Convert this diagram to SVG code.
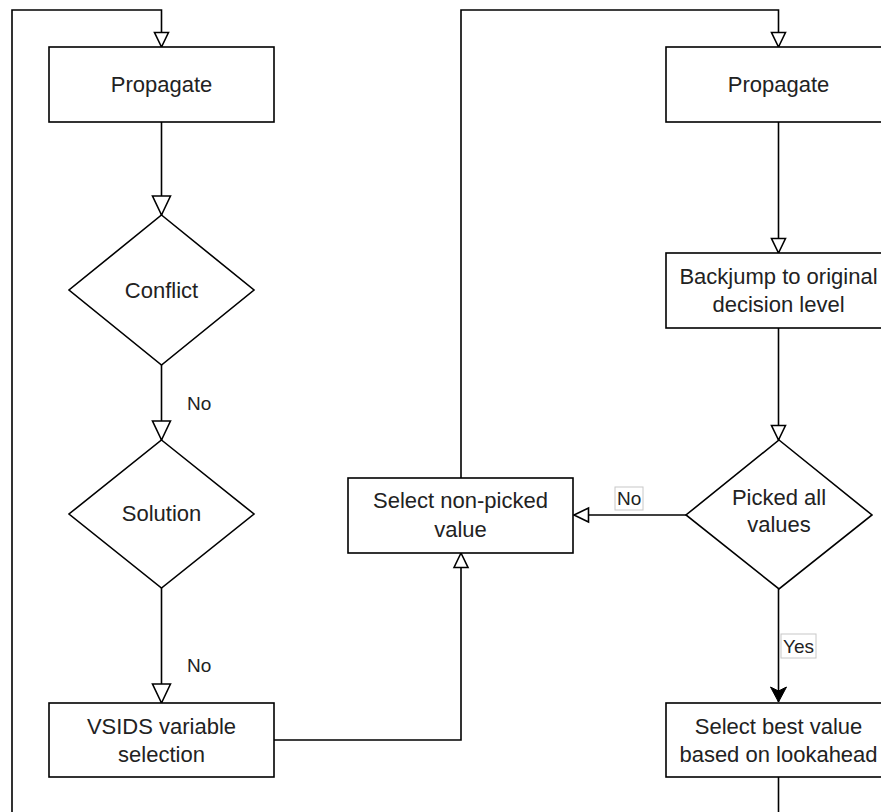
<svg xmlns="http://www.w3.org/2000/svg" width="881" height="812" viewBox="0 0 881 812">
<style>
.n{fill:#fff;stroke:#000;stroke-width:1.6}
.t{font-family:"Liberation Sans",Arial,sans-serif;font-size:22px;fill:#222;text-anchor:middle}
.l{font-family:"Liberation Sans",Arial,sans-serif;font-size:19px;fill:#222}
.c{fill:none;stroke:#000;stroke-width:1.6}
.lb{fill:#fff;stroke:#c8c8c8;stroke-width:1}
</style>
<defs>
<marker id="big" markerUnits="userSpaceOnUse" markerWidth="24" markerHeight="24" refX="19" refY="9" orient="auto" overflow="visible">
<path d="M0,0 L19,9 L0,18 Z" fill="#fff" stroke="#000" stroke-width="1.6"/>
</marker>
<marker id="sm" markerUnits="userSpaceOnUse" markerWidth="20" markerHeight="20" refX="14.5" refY="7" orient="auto" overflow="visible">
<path d="M0,0 L14.5,7 L0,14 Z" fill="#fff" stroke="#000" stroke-width="1.6"/>
</marker>
<marker id="fill" markerUnits="userSpaceOnUse" markerWidth="20" markerHeight="20" refX="15" refY="8" orient="auto" overflow="visible">
<path d="M0,0 L15,8 L0,16 L4,8 Z" fill="#000" stroke="#000" stroke-width="1"/>
</marker>
</defs>
<g id="connectors">
<path class="c" d="M12,812 L12,10 L161.5,10 L161.5,47" marker-end="url(#sm)"/>
<path class="c" d="M161.5,122 L161.5,215" marker-end="url(#big)"/>
<path class="c" d="M161.5,365 L161.5,440" marker-end="url(#big)"/>
<path class="c" d="M161.5,588 L161.5,703" marker-end="url(#big)"/>
<path class="c" d="M274,740 L461,740 L461,553" marker-end="url(#sm)"/>
<path class="c" d="M461,478 L461,10 L778.5,10 L778.5,47" marker-end="url(#sm)"/>
<path class="c" d="M778.5,122 L778.5,253" marker-end="url(#sm)"/>
<path class="c" d="M778.5,328 L778.5,440" marker-end="url(#sm)"/>
<path class="c" d="M686,515 L574,515" marker-end="url(#sm)"/>
<path class="c" d="M778.5,589 L778.5,702" marker-end="url(#fill)"/>
<path class="c" d="M778.5,777 L778.5,812"/>
<g id="labels">
<text class="l" x="187" y="410">No</text>
<text class="l" x="187" y="672">No</text>
<rect class="lb" x="615" y="487" width="28" height="23"/>
<text class="l" x="617" y="505">No</text>
<rect class="lb" x="781" y="634" width="35" height="24"/>
<text class="l" x="783" y="653">Yes</text>
</g>
</g>
<g id="propagate1">
<rect class="n" x="49" y="47" width="225" height="75"/>
<text class="t" x="161.5" y="92">Propagate</text>
</g>
<g id="conflict">
<path class="n" d="M161.5,215 L254,290 L161.5,365 L69,290 Z"/>
<text class="t" x="161.5" y="298">Conflict</text>
</g>
<g id="solution">
<path class="n" d="M161.5,440 L254,514 L161.5,588 L69,514 Z"/>
<text class="t" x="161.5" y="521">Solution</text>
</g>
<g id="vsids">
<rect class="n" x="49" y="703" width="225" height="74"/>
<text class="t" x="161.5" y="734">VSIDS variable</text>
<text class="t" x="161.5" y="762">selection</text>
</g>
<g id="selectNonPicked">
<rect class="n" x="348" y="478" width="225" height="75"/>
<text class="t" x="460.5" y="508">Select non-picked</text>
<text class="t" x="460.5" y="537">value</text>
</g>
<g id="propagate2">
<rect class="n" x="666" y="47" width="225" height="75"/>
<text class="t" x="778.5" y="92">Propagate</text>
</g>
<g id="backjump">
<rect class="n" x="666" y="253" width="225" height="75"/>
<text class="t" x="778.5" y="284">Backjump to original</text>
<text class="t" x="778.5" y="312">decision level</text>
</g>
<g id="pickedAll">
<path class="n" d="M779,440 L872,515 L779,589 L686,515 Z"/>
<text class="t" x="779" y="505">Picked all</text>
<text class="t" x="779" y="532">values</text>
</g>
<g id="selectBest">
<rect class="n" x="666" y="703" width="225" height="74"/>
<text class="t" x="778.5" y="734">Select best value</text>
<text class="t" x="778.5" y="762">based on lookahead</text>
</g>
</svg>
